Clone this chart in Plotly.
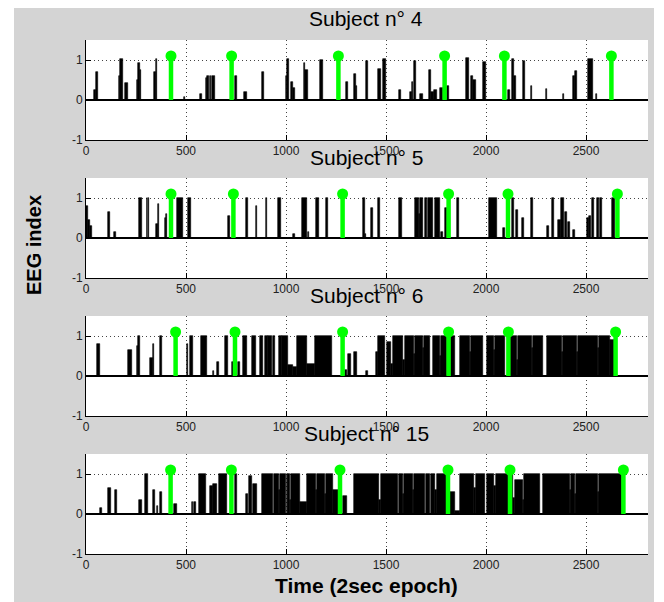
import plotly.graph_objects as go

# ---------------- data ----------------
subjects = ["Subject n° 4", "Subject n° 5", "Subject n° 6", "Subject n° 15"]
x_ticks = [0, 500, 1000, 1500, 2000, 2500]
y_ticks = [-1, 0, 1]

# EEG index bursts: start epoch, end epoch, level
s4_start = [40, 48, 165, 170, 195, 255, 260, 268, 340, 348, 490, 570, 600, 607, 618, 630, 745, 792, 878,
            1000, 1005, 1025, 1033, 1090, 1097, 1170, 1298, 1342, 1350, 1400, 1458, 1483, 1567, 1620, 1630,
            1642, 1670, 1717, 1725, 1742, 1770, 1807, 1898, 1925, 1935, 1987, 2108, 2128, 2140, 2187, 2223,
            2298, 2383, 2437, 2445, 2512, 2550]
s4_end = [48, 58, 170, 183, 212, 260, 268, 276, 348, 357, 495, 580, 607, 615, 626, 645, 753, 803, 890,
          1005, 1017, 1033, 1045, 1097, 1110, 1187, 1312, 1350, 1357, 1408, 1473, 1500, 1573, 1630, 1637,
          1650, 1683, 1725, 1740, 1753, 1783, 1815, 1915, 1935, 1950, 1998, 2118, 2140, 2150, 2195, 2232,
          2307, 2390, 2445, 2453, 2537, 2557]
s4_level = [0.25, 0.7, 0.6, 1.02, 0.42, 0.5, 0.92, 0.75, 0.7, 1.02, 0.08, 0.15, 0.55, 0.6, 0.6, 0.6, 0.6, 0.2, 0.7,
            0.6, 1.02, 0.45, 0.3, 0.92, 0.75, 1.0, 0.45, 0.65, 0.35, 0.97, 0.77, 1.02, 0.25, 0.2, 0.45,
            0.98, 0.15, 0.75, 0.2, 0.25, 0.3, 0.35, 1.04, 0.6, 0.5, 0.95, 0.25, 1.02, 0.6, 0.98, 0.35,
            0.28, 0.15, 0.6, 0.72, 1.02, 0.15]

s5_start = [0, 8, 20, 112, 142, 267, 303, 309, 350, 358, 395, 401, 453, 512, 712, 798, 848, 898, 962, 1037,
            1082, 1108, 1150, 1200, 1387, 1395, 1425, 1458, 1567, 1645, 1665, 1672, 1695, 1712, 1745, 1775,
            1795, 1857, 2017, 2083, 2128, 2150, 2182, 2225, 2303, 2328, 2362, 2375, 2397, 2412, 2433, 2507,
            2515, 2532, 2553, 2570, 2628]
s5_end = [8, 20, 28, 120, 148, 278, 307, 313, 358, 367, 401, 407, 487, 525, 720, 808, 857, 907, 975, 1045,
          1103, 1117, 1163, 1212, 1395, 1402, 1437, 1470, 1580, 1665, 1672, 1687, 1707, 1737, 1770, 1787,
          1807, 1865, 2053, 2095, 2140, 2162, 2190, 2237, 2313, 2340, 2373, 2390, 2407, 2420, 2445, 2513,
          2525, 2540, 2563, 2578, 2645]
s5_level = [0.8, 0.45, 0.3, 0.65, 0.15, 1.0, 1.0, 1.0, 0.35, 0.85, 0.5, 0.6, 1.0, 1.0, 0.55, 1.0, 0.8, 1.0, 1.0, 0.1,
            1.0, 0.15, 1.0, 1.0, 1.0, 0.1, 0.75, 1.0, 1.0, 1.0, 0.6, 1.0, 1.0, 1.0, 1.0, 0.15,
            0.75, 1.0, 1.0, 0.25, 1.0, 0.7, 0.5, 1.0, 0.3, 1.0, 0.45, 1.0, 0.65, 0.4, 0.2, 0.5,
            0.55, 1.0, 1.0, 1.0, 1.0]

s6_start = [53, 212, 253, 260, 320, 333, 370, 503, 520, 573, 633, 657, 695, 728, 758, 787, 828, 870, 895, 912,
            933, 965, 982, 1012, 1037, 1053, 1103, 1145, 1295, 1312, 1342, 1400, 1448,
            1458, 1507, 1525, 1537, 1587, 1595, 1640, 1645, 1685, 1690, 1737, 1770, 1775, 1820, 1870, 1920,
            1925, 2003, 2040, 2045, 2120, 2153, 2162, 2230, 2235, 2303, 2380, 2385, 2453, 2462, 2560, 2565, 2620]
s6_end = [70, 228, 260, 270, 333, 342, 380, 512, 537, 603, 642, 667, 712, 740, 770, 803, 848, 883, 908, 928,
          945, 982, 1012, 1037, 1053, 1103, 1145, 1232, 1303, 1323, 1353, 1408, 1458,
          1495, 1525, 1537, 1587, 1595, 1640, 1645, 1685, 1690, 1720, 1770, 1775, 1803, 1845, 1920, 1925,
          1987, 2040, 2045, 2095, 2153, 2162, 2230, 2235, 2287, 2380, 2385, 2453, 2462, 2560, 2565, 2620, 2645]
s6_level = [0.8, 0.65, 0.75, 1.0, 0.45, 0.8, 1.0, 0.8, 1.0, 1.0, 0.12, 0.35, 1.0, 0.35, 0.35, 1.0, 1.0, 1.0, 1.0, 1.0,
            1.0, 1.0, 1.0, 0.28, 0.22, 1.0, 0.3, 1.0, 0.15, 0.55, 0.6, 0.12, 0.6,
            1.0, 0.85, 0.3, 1.0, 0.4, 1.0, 0.55, 1.0, 0.7, 1.0, 1.0, 0.5, 1.0, 1.0, 1.0, 0.6,
            1.0, 1.0, 0.65, 1.0, 1.0, 0.4, 1.0, 0.7, 1.0, 1.0, 0.6, 1.0, 0.6, 1.0, 0.7, 1.0, 0.9]

s15_start = [70, 112, 145, 265, 295, 333, 353, 370, 442, 528, 542, 565, 620, 637, 667, 745, 798, 815, 837,
             878, 938, 965, 972, 1003, 1012, 1020, 1026, 1070, 1103, 1150, 1155, 1195, 1200, 1237, 1287,
             1340, 1467, 1473, 1565, 1585, 1590, 1635, 1640, 1698, 1727, 1743, 1753, 1820, 1845,
             1870, 1942, 1948, 2003, 2042, 2048, 2135, 2145, 2185, 2190,
             2287, 2418, 2423, 2443, 2448, 2560, 2565]
s15_end = [80, 123, 157, 278, 312, 345, 362, 380, 453, 537, 550, 600, 633, 653, 703, 753, 812, 828, 853,
           935, 965, 972, 1000, 1012, 1020, 1026, 1070, 1103, 1150, 1155, 1195, 1200, 1237, 1267, 1303,
           1467, 1473, 1560, 1585, 1590, 1635, 1640, 1693, 1718, 1743, 1753, 1812, 1845, 1870,
           1942, 1948, 1995, 2042, 2048, 2135, 2145, 2185, 2190, 2270,
           2418, 2423, 2443, 2448, 2560, 2565, 2678]
s15_level = [0.15, 0.65, 0.6, 0.35, 1.0, 0.6, 0.2, 0.55, 0.25, 0.3, 0.3, 1.0, 0.7, 0.75, 1.0, 1.0, 0.5, 0.95, 0.75,
             1.0, 1.0, 0.6, 1.0, 1.0, 1.0, 0.35, 1.0, 0.3, 1.0, 0.6, 1.0, 0.5, 1.0, 0.6, 0.45,
             1.0, 0.35, 1.0, 1.0, 0.5, 1.0, 0.6, 1.0, 1.0, 1.0, 0.6, 1.0, 0.55, 0.08,
             1.0, 0.65, 1.0, 1.0, 0.7, 1.0, 0.4, 0.85, 0.35, 1.0,
             1.0, 0.6, 1.0, 0.5, 1.0, 0.55, 1.0]

# green event markers (epochs) and their stem height
s4_events = [425, 728, 1262, 1793, 2092, 2627]
s5_events = [425, 737, 1283, 1813, 2110, 2657]
s6_events = [448, 745, 1283, 1813, 2112, 2648]
s15_events = [423, 727, 1270, 1810, 2120, 2687]
event_level = 1.1

bursts = [(s4_start, s4_end, s4_level), (s5_start, s5_end, s5_level),
          (s6_start, s6_end, s6_level), (s15_start, s15_end, s15_level)]
events = [s4_events, s5_events, s6_events, s15_events]

# ---------------- layout geometry (page pixels) ----------------
PAGE_OFF = 8                      # default body margin of the html page
W, H = 664 - PAGE_OFF, 602 - PAGE_OFF
P_LEFT, P_RIGHT = 86, 648         # plot area, page pixels
P_TOP, P_BOTTOM = 40, 554
ML = P_LEFT - PAGE_OFF
MR = W - (P_RIGHT - PAGE_OFF)
MT = P_TOP - PAGE_OFF
MB = H - (P_BOTTOM - PAGE_OFF)
plot_w = W - ML - MR
plot_h = H - MT - MB
panel_px = 100
step_px = 138
FONT = "Liberation Sans, Arial, Helvetica, sans-serif"
GRAY = "#d4d4d4"


def px_x(p):  # page pixel -> paper x
    return (p - P_LEFT) / plot_w


def px_y(p):  # page pixel -> paper y
    return 1 - (p - P_TOP) / plot_h


fig = go.Figure()
layout = dict(
    width=W, height=H,
    margin=dict(l=ML, r=MR, t=MT, b=MB, pad=0, autoexpand=False),
    paper_bgcolor=GRAY, plot_bgcolor="white",
    showlegend=False, bargap=0,
    font=dict(family=FONT, size=12, color="#222"),
)

annotations = []
for i in range(4):
    k = "" if i == 0 else str(i + 1)
    xa, ya = "x" + k, "y" + k
    s, e, lv = bursts[i]
    fig.add_trace(go.Bar(
        x=[(a + b) / 2 for a, b in zip(s, e)],
        width=[b - a for a, b in zip(s, e)],
        y=lv, base=0,
        marker=dict(color="black", line=dict(color="black", width=0.6)),
        xaxis=xa, yaxis=ya, hoverinfo="skip"))
    sx, sy = [], []
    for p in events[i]:
        sx += [p, p, None]
        sy += [0, event_level, None]
    fig.add_trace(go.Scatter(x=sx, y=sy, mode="lines",
                             line=dict(color="#00ff00", width=4.5),
                             xaxis=xa, yaxis=ya, hoverinfo="skip"))
    fig.add_trace(go.Scatter(x=events[i], y=[event_level] * len(events[i]), mode="markers",
                             marker=dict(color="#00ff00", size=11, line=dict(width=0)),
                             xaxis=xa, yaxis=ya, hoverinfo="skip"))

    top = P_TOP + i * step_px
    axcommon = dict(showline=True, linecolor="black", linewidth=1, mirror=False,
                    ticks="inside", ticklen=5, tickcolor="black",
                    showgrid=True, gridcolor="#444", gridwidth=1, griddash="1px,3px",
                    tickfont=dict(family=FONT, size=12, color="#222"))
    layout["xaxis" + k] = dict(domain=[0, 1], anchor=ya, range=[0, 2810],
                               tickvals=x_ticks, ticktext=[str(v) for v in x_ticks],
                               zeroline=False, **axcommon)
    layout["yaxis" + k] = dict(domain=[px_y(top + panel_px), px_y(top)], anchor=xa, range=[-1, 1.5],
                               tickvals=y_ticks, ticktext=[str(v) for v in y_ticks],
                               zeroline=True, zerolinecolor="black", zerolinewidth=2,
                               **axcommon)
    annotations.append(dict(text=subjects[i], xref="paper", yref="paper",
                            x=px_x(366), y=px_y(top - 21),
                            xanchor="center", yanchor="middle", showarrow=False,
                            font=dict(family=FONT, size=21, color="black")))

annotations.append(dict(text="<b>Time (2sec epoch)</b>", xref="paper", yref="paper",
                        x=px_x(366), y=px_y(585),
                        xanchor="center", yanchor="middle", showarrow=False,
                        font=dict(family=FONT, size=21, color="black")))
annotations.append(dict(text="<b>EEG index</b>", xref="paper", yref="paper",
                        x=px_x(34), y=px_y(245),
                        xanchor="center", yanchor="middle", showarrow=False, textangle=-90,
                        font=dict(family=FONT, size=20, color="black")))
layout["annotations"] = annotations

# white frame around the grey figure area (page pixels)
frame = [(0, 0, 14, 602), (654, 0, 664, 602)]
layout["shapes"] = [dict(type="rect", xref="paper", yref="paper",
                         x0=px_x(a), x1=px_x(c), y0=px_y(d), y1=px_y(b),
                         fillcolor="white", line=dict(width=0), layer="above")
                    for a, b, c, d in frame]

fig.update_layout(**layout)
fig.write_html("out.html")
